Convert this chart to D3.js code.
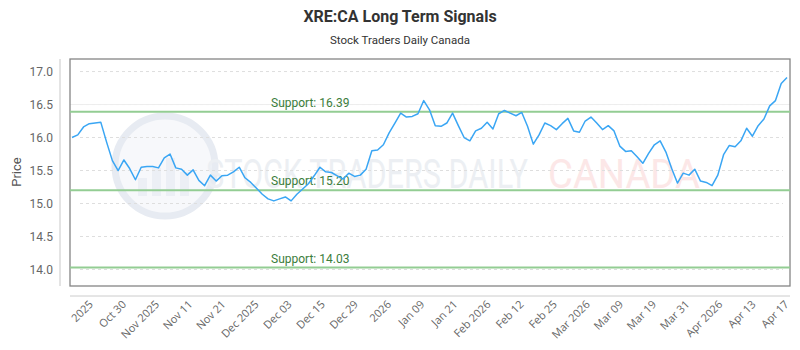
<!DOCTYPE html>
<html>
<head>
<meta charset="utf-8">
<script src="https://cdn.jsdelivr.net/npm/d3@7"></script>
<style>
  body { margin: 0; background: #fff; }
  svg { display: block; font-family: Roboto, sans-serif; }
</style>
</head>
<body>
<svg id="chart" width="800" height="350"></svg>
<script>
const title = 'XRE:CA Long Term Signals';
const subtitle = 'Stock Traders Daily Canada';

// closing prices, one per session
const prices = [
  16.00, 16.04, 16.16, 16.21, 16.22, 16.23, 15.93, 15.65, 15.50, 15.66,
  15.53, 15.36, 15.55, 15.56, 15.56, 15.54, 15.69, 15.75, 15.54, 15.52,
  15.43, 15.51, 15.35, 15.27, 15.43, 15.34, 15.42, 15.43, 15.48, 15.55,
  15.39, 15.32, 15.23, 15.14, 15.07, 15.04, 15.07, 15.10, 15.04, 15.14,
  15.22, 15.30, 15.42, 15.55, 15.48, 15.47, 15.42, 15.37, 15.46, 15.41,
  15.43, 15.52, 15.80, 15.81, 15.89, 16.07, 16.22, 16.37, 16.31, 16.32,
  16.36, 16.56, 16.42, 16.18, 16.17, 16.22, 16.37, 16.18, 16.00, 15.95,
  16.10, 16.14, 16.23, 16.13, 16.36, 16.41, 16.37, 16.33, 16.38, 16.17,
  15.90, 16.04, 16.22, 16.18, 16.12, 16.21, 16.29, 16.10, 16.08, 16.25,
  16.31, 16.22, 16.12, 16.18, 16.10, 15.87, 15.79, 15.80, 15.71, 15.61,
  15.76, 15.89, 15.95, 15.78, 15.53, 15.31, 15.46, 15.43, 15.52, 15.34,
  15.32, 15.27, 15.43, 15.74, 15.88, 15.86, 15.95, 16.14, 16.02, 16.18,
  16.28, 16.48, 16.56, 16.82, 16.91
];

const supports = [16.39, 15.20, 14.03];

const tickLabels = [
  '2025', 'Oct 30', 'Nov 2025', 'Nov 11', 'Nov 21', 'Dec 2025', 'Dec 03',
  'Dec 15', 'Dec 29', '2026', 'Jan 09', 'Jan 21', 'Feb 2026', 'Feb 12',
  'Feb 25', 'Mar 2026', 'Mar 09', 'Mar 19', 'Mar 31', 'Apr 2026',
  'Apr 13', 'Apr 17'
];

const yTicks = [14.0, 14.5, 15.0, 15.5, 16.0, 16.5, 17.0];

const svg = d3.select('#chart');
const box = { left: 70, right: 790, top: 59, bottom: 286 };

const x = d3.scaleLinear()
  .domain([0, prices.length - 1])
  .range([box.left + 2, box.right - 3]);
const y = d3.scaleLinear()
  .domain([13.75, 17.19])
  .range([box.bottom, box.top]);
// labels sit on every few sessions, spread evenly
const xLabel = d3.scalePoint()
  .domain(tickLabels)
  .range([x(3), x(prices.length - 1) - 2]);

// titles
svg.append('text')
  .attr('x', 400).attr('y', 22)
  .attr('text-anchor', 'middle')
  .attr('font-size', 16).attr('font-weight', 'bold')
  .attr('fill', '#333')
  .text(title);
svg.append('text')
  .attr('x', 400).attr('y', 44)
  .attr('text-anchor', 'middle')
  .attr('font-size', 11.5)
  .attr('fill', '#333')
  .text(subtitle);

// watermark
const wm = svg.append('g').attr('class', 'watermark');
wm.append('circle')
  .attr('cx', 165).attr('cy', 166).attr('r', 50)
  .attr('fill', '#f7f8fb')
  .attr('stroke', '#e7ebf2').attr('stroke-width', 7);
wm.selectAll('rect.wmbar').data([18, 28, 38, 24]).enter()
  .append('rect')
  .attr('class', 'wmbar')
  .attr('x', (d, i) => 138 + i * 14)
  .attr('y', d => 196 - d)
  .attr('width', 9)
  .attr('height', d => d)
  .attr('fill', '#eceff5');
wm.append('text')
  .attr('x', 206).attr('y', 188)
  .attr('font-size', 40)
  .attr('textLength', 322).attr('lengthAdjust', 'spacingAndGlyphs')
  .attr('fill', '#eceff3')
  .text('STOCK TRADERS DAILY');
wm.append('text')
  .attr('x', 548).attr('y', 188)
  .attr('font-size', 40)
  .attr('textLength', 152).attr('lengthAdjust', 'spacingAndGlyphs')
  .attr('fill', '#fce7e7')
  .text('CANADA');

// grid
svg.append('g')
  .selectAll('line').data(yTicks).enter()
  .append('line')
  .attr('x1', box.left + 10).attr('x2', box.right - 7)
  .attr('y1', d => y(d)).attr('y2', d => y(d))
  .attr('stroke', '#dedede')
  .attr('stroke-dasharray', '3,3');
svg.append('line')
  .attr('x1', box.left).attr('x2', box.right)
  .attr('y1', y(16.5)).attr('y2', y(16.5))
  .attr('stroke', '#eeeeee');

// plot frame
svg.append('rect')
  .attr('x', box.left).attr('y', box.top)
  .attr('width', box.right - box.left)
  .attr('height', box.bottom - box.top)
  .attr('fill', 'none')
  .attr('stroke', '#858585')
  .attr('stroke-width', 1.3);

// support lines
const sup = svg.append('g').selectAll('g').data(supports).enter().append('g');
sup.append('line')
  .attr('x1', box.left).attr('x2', box.right)
  .attr('y1', d => y(d)).attr('y2', d => y(d))
  .attr('stroke', '#93cd93')
  .attr('stroke-width', 2);
sup.append('text')
  .attr('x', 271).attr('y', d => y(d) - 5)
  .attr('font-size', 12)
  .attr('fill', '#3c7d3c')
  .text(d => 'Support: ' + d.toFixed(2));

// price line
svg.append('path')
  .datum(prices)
  .attr('fill', 'none')
  .attr('stroke', '#3aa6f4')
  .attr('stroke-width', 1.5)
  .attr('stroke-linejoin', 'round')
  .attr('d', d3.line().x((d, i) => x(i)).y(d => y(d)));

// y axis
const yAxis = svg.append('g')
  .attr('transform', 'translate(60,0)')
  .call(d3.axisLeft(y).tickValues(yTicks).tickFormat(d3.format('.1f')).tickSize(0).tickPadding(7));
yAxis.select('.domain').attr('stroke', '#c8c8c8').attr('d', `M0,${box.top}V${box.bottom}`);
yAxis.selectAll('text').attr('font-size', 12).attr('fill', '#666').attr('font-family', 'Roboto, sans-serif');

svg.append('text')
  .attr('transform', 'translate(21,172) rotate(-90)')
  .attr('text-anchor', 'middle')
  .attr('font-size', 13)
  .attr('fill', '#555')
  .text('Price');

// x axis
const xAxis = svg.append('g')
  .attr('transform', 'translate(0,296)')
  .call(d3.axisBottom(xLabel).tickSize(0).tickPadding(0));
xAxis.select('.domain').attr('stroke', '#cccccc').attr('d', `M${box.left},0H${box.right}`);
xAxis.selectAll('text')
  .attr('font-family', '"Open Sans", sans-serif')
  .attr('font-size', 11)
  .attr('fill', '#666')
  .attr('text-anchor', 'end')
  .attr('dy', null)
  .attr('y', 0)
  .attr('transform', 'translate(4,9) rotate(-45)');
</script>
</body>
</html>
